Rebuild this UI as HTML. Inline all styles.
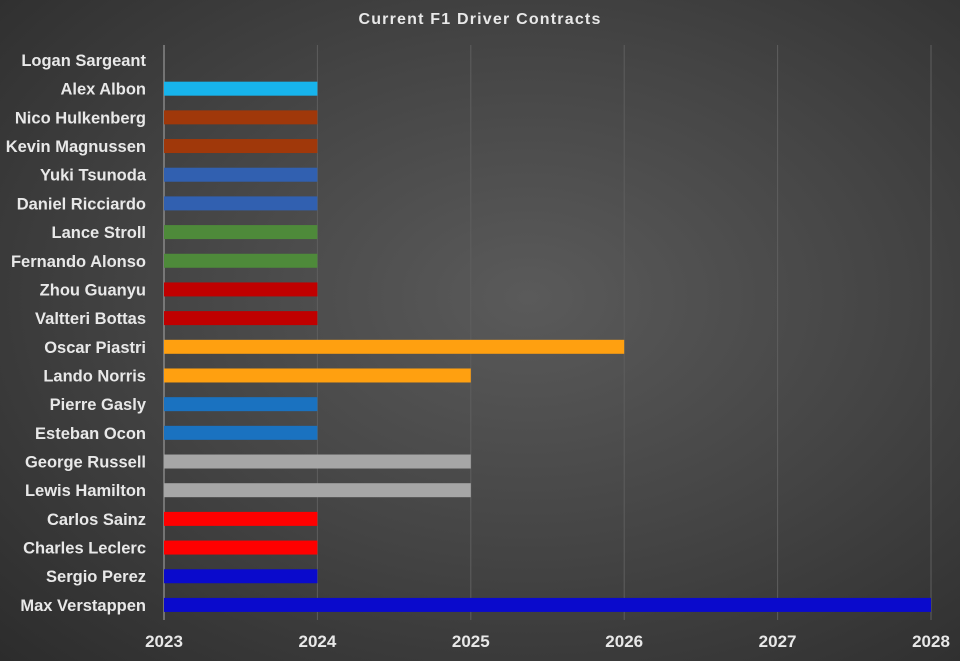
<!DOCTYPE html><html><head><style>
body{margin:0;width:960px;height:661px;overflow:hidden;background:radial-gradient(ellipse at 55% 45%,#5a5a5a 0%,#444 50%,#2c2c2c 100%);font-family:"Liberation Sans",sans-serif;}
</style></head><body>
<svg width="960" height="661" style="position:absolute;left:0;top:0">
<text x="480" y="24" fill="#e8e8e8" font-size="16" font-weight="bold" text-anchor="middle" letter-spacing="1.2">Current F1 Driver Contracts</text>
<g stroke="#5e5e5e" stroke-width="1">
<line x1="317.4" y1="45" x2="317.4" y2="620"/><line x1="470.8" y1="45" x2="470.8" y2="620"/><line x1="624.2" y1="45" x2="624.2" y2="620"/><line x1="777.6" y1="45" x2="777.6" y2="620"/><line x1="931" y1="45" x2="931" y2="620"/>
</g>
<line x1="164" y1="45" x2="164" y2="620" stroke="#aaa" stroke-width="1"/>
<g font-size="16.5" font-weight="bold" fill="#e8e8e8" text-anchor="end" id="l"></g>
<g id="b"></g>
<g font-size="17" font-weight="bold" fill="#e8e8e8" text-anchor="middle">
<text x="164" y="647">2023</text><text x="317.4" y="647">2024</text><text x="470.8" y="647">2025</text><text x="624.2" y="647">2026</text><text x="777.6" y="647">2027</text><text x="931" y="647">2028</text>
</g>
</svg>
<script>
var d=[["Logan Sargeant",0,""],["Alex Albon",1,"#17b4ec"],["Nico Hulkenberg",1,"#a0380a"],["Kevin Magnussen",1,"#a0380a"],["Yuki Tsunoda",1,"#3160b0"],["Daniel Ricciardo",1,"#3160b0"],["Lance Stroll",1,"#4e8a3a"],["Fernando Alonso",1,"#4e8a3a"],["Zhou Guanyu",1,"#c00000"],["Valtteri Bottas",1,"#c00000"],["Oscar Piastri",3,"#ffa010"],["Lando Norris",2,"#ffa010"],["Pierre Gasly",1,"#1a72c0"],["Esteban Ocon",1,"#1a72c0"],["George Russell",2,"#a6a6a6"],["Lewis Hamilton",2,"#a6a6a6"],["Carlos Sainz",1,"#ff0000"],["Charles Leclerc",1,"#ff0000"],["Sergio Perez",1,"#0a0acc"],["Max Verstappen",5,"#0a0acc"]];
var ns="http://www.w3.org/2000/svg",L=document.getElementById("l"),B=document.getElementById("b");
d.forEach(function(r,i){var y=60+i*28.68;var t=document.createElementNS(ns,"text");t.setAttribute("x",146);t.setAttribute("y",y+6);t.textContent=r[0];L.appendChild(t);
if(r[1]){var e=document.createElementNS(ns,"rect");e.setAttribute("x",164);e.setAttribute("y",y-7);e.setAttribute("width",r[1]*153.4);e.setAttribute("height",14);e.setAttribute("fill",r[2]);B.appendChild(e);}});
</script>
</body></html>
